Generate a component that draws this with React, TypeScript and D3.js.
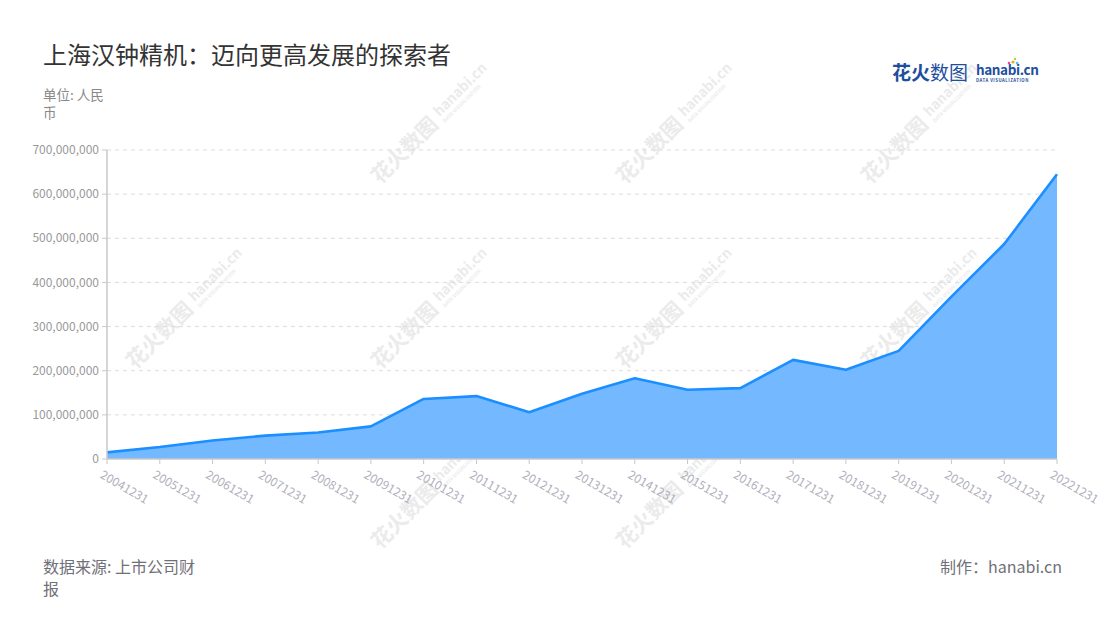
import React from "react";
import * as d3 from "d3";

const categories = [
  "20041231", "20051231", "20061231", "20071231", "20081231", "20091231",
  "20101231", "20111231", "20121231", "20131231", "20141231", "20151231",
  "20161231", "20171231", "20181231", "20191231", "20201231", "20211231", "20221231",
];
const revenue = [
  15000000, 27000000, 42000000, 53000000, 60000000, 74000000,
  136000000, 142500000, 106000000, 148000000, 183000000, 157000000,
  160500000, 224500000, 202000000, 245000000, 368000000, 487000000, 645000000,
];
const yTicks = [0, 100000000, 200000000, 300000000, 400000000, 500000000, 600000000, 700000000];

const W = 1100, H = 620;
const L = 107, R = 1057, T = 150, B = 459;
const FONT = "'Noto Sans CJK SC', 'Noto Sans', sans-serif";

const wmPos: [number, number][] = [
  [380, 185], [625, 185], [870, 185],
  [135, 370], [380, 370], [625, 370], [870, 370],
  [380, 550], [625, 550],
];

function Watermark({ x, y }: { x: number; y: number }) {
  return (
    <g transform={`translate(${x},${y}) rotate(-45)`} fill="#ebebeb" fontFamily={FONT}>
      <text x={0} y={0} fontSize={21} fontWeight={700}>花火数图</text>
      <text x={90} y={-6} fontSize={14} fontWeight={700}>hanabi.cn</text>
      <text x={90} y={2} fontSize={5} fontWeight={700}>DATA VISUALIZATION</text>
    </g>
  );
}

export default function App() {
  const x = d3.scalePoint<string>().domain(categories).range([L, R]);
  const y = d3.scaleLinear().domain([0, 700000000]).range([B, T]);
  const fmt = d3.format(",");
  const pts = categories.map((c, i) => [x(c) as number, revenue[i]] as [number, number]);
  const area = d3.area<[number, number]>().x(d => d[0]).y0(y(0)).y1(d => y(d[1]));
  const line = d3.line<[number, number]>().x(d => d[0]).y(d => y(d[1]));

  return (
    <svg width={W} height={H} style={{ position: "absolute", left: 0, top: 0, background: "#fff" }} fontFamily={FONT}>
      {/* watermarks */}
      {wmPos.map(([wx, wy], i) => <Watermark key={i} x={wx} y={wy} />)}

      {/* title */}
      <text x={43} y={64} fontSize={24} fill="#333">上海汉钟精机：迈向更高发展的探索者</text>
      <text x={43} y={100} fontSize={13.5} fill="#888">单位: 人民</text>
      <text x={43} y={118} fontSize={13.5} fill="#888">币</text>

      {/* logo */}
      <g fontFamily={FONT}>
        <text x={892} y={80} fontSize={19} fontWeight={700} fill="#1e4f9e">花火<tspan fontWeight={400}>数图</tspan></text>
        <text x={976} y={75} fontSize={13.5} fontWeight={700} fill="#1e4f9e" letterSpacing={-0.4}>hanabi.cn</text>
        <text x={976} y={82} fontSize={4.3} fontWeight={700} fill="#1e4f9e" letterSpacing={0.5}>DATA VISUALIZATION</text>
        <circle cx={1013} cy={62} r={1.6} fill="#f5a623" />
        <circle cx={1009} cy={63} r={1.3} fill="#e94b8a" />
        <circle cx={1017} cy={63} r={1.3} fill="#4fc3f7" />
        <circle cx={1015} cy={59} r={1.1} fill="#7ed321" />
      </g>

      {/* grid */}
      {yTicks.slice(1).map(t => (
        <line key={t} x1={L} x2={R} y1={y(t)} y2={y(t)} stroke="#dcdcdc" strokeWidth={1} strokeDasharray="4,4" />
      ))}

      {/* area + line */}
      <path d={area(pts) as string} fill="#74b9ff" />
      <path d={line(pts) as string} fill="none" stroke="#1b8fff" strokeWidth={2.6} strokeLinejoin="round" />

      {/* y axis */}
      <line x1={L} x2={L} y1={T} y2={B} stroke="#c8c8c8" strokeWidth={1.5} />
      {yTicks.map(t => (
        <g key={t}>
          <line x1={L - 5} x2={L} y1={y(t)} y2={y(t)} stroke="#c8c8c8" strokeWidth={1} />
          <text x={L - 8} y={y(t)} dy="0.35em" textAnchor="end" fontSize={12} fill="#999">{fmt(t)}</text>
        </g>
      ))}

      {/* x axis */}
      <line x1={L} x2={R} y1={B} y2={B} stroke="#c8c8c8" strokeWidth={1.5} />
      {categories.map(c => (
        <g key={c}>
          <line x1={x(c)} x2={x(c)} y1={B} y2={B + 5} stroke="#c8c8c8" strokeWidth={1} />
          <text transform={`translate(${(x(c) as number) - 3},${B + 10}) rotate(30)`} fontSize={12} fill="#b0b0bc" dy="0.8em">{c}</text>
        </g>
      ))}

      {/* footer */}
      <text x={43} y={573} fontSize={16} fill="#707078">数据来源: 上市公司财</text>
      <text x={43} y={595} fontSize={16} fill="#707078">报</text>
      <text x={1062} y={573} fontSize={16} fill="#707078" textAnchor="end">制作：hanabi.cn</text>
    </svg>
  );
}
